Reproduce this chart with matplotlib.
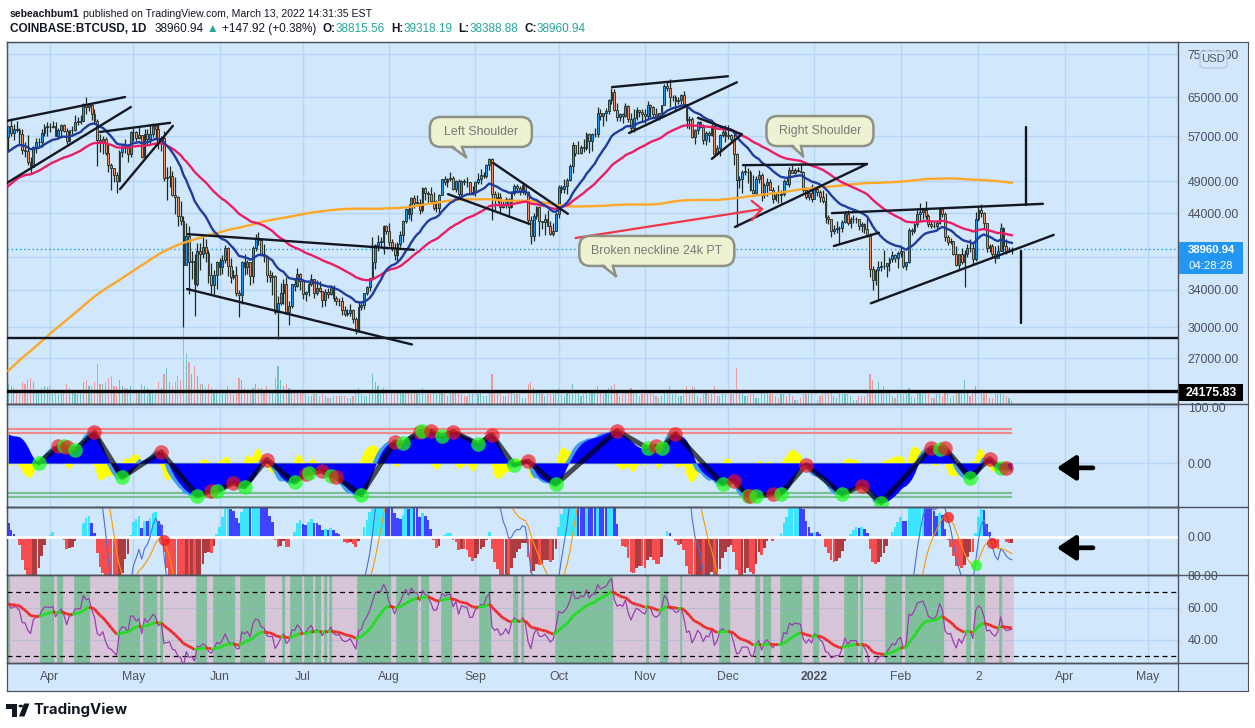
import numpy as np
import pandas as pd
import matplotlib
matplotlib.use("Agg")
import matplotlib.pyplot as plt
from matplotlib.collections import LineCollection
from matplotlib.lines import Line2D
from matplotlib.patches import FancyBboxPatch, Polygon, Rectangle, Circle
from matplotlib.ticker import FixedLocator, FuncFormatter, NullLocator, NullFormatter
from matplotlib.transforms import IdentityTransform

W, H = 1255, 728
START = "2021-03-17"

# warm-up closes (k USD), 2020-08-30 .. 2021-03-16, only feed the MAs / oscillators
hist_close = [
    11.7, 11.7,
    11.9, 11.4, 10.2, 10.5, 10.2, 10.3, 10.4, 10.1, 10.2, 10.4, 10.4, 10.4, 10.3, 10.7, 10.8,
    10.9, 11.0, 10.9, 11.1, 10.9, 10.4, 10.5, 10.2, 10.7, 10.7, 10.7, 10.8, 10.7, 10.8, 10.8,
    10.6, 10.6, 10.6, 10.7, 10.8, 10.6, 10.7, 10.9, 11.1, 11.3, 11.4, 11.5, 11.4, 11.4, 11.5, 11.3,
    11.4, 11.5, 11.7, 11.9, 12.8, 13.0, 13.0, 13.1, 13.0, 13.1, 13.7, 13.3, 13.5, 13.6, 13.8,
    13.75, 13.55, 14.0, 14.15, 15.6, 15.6, 14.85, 15.5, 15.3, 15.3, 15.7, 16.3, 16.3, 16.1, 15.95,
    16.7, 17.7, 17.8, 17.8, 18.7, 18.7, 18.4, 18.4, 19.15, 18.7, 17.15, 17.1, 17.7, 18.2, 19.7,
    18.8, 19.2, 19.45, 18.65, 19.15, 19.35, 19.2, 18.3, 18.55, 18.25, 18.05, 18.8, 19.15, 19.27, 19.43, 21.35,
    22.8, 23.1, 23.85, 23.45, 22.7, 23.8, 23.2, 23.7, 24.7, 26.4, 26.25, 27.0, 27.35, 28.9, 29.0,
    29.4, 32.2, 33.0, 32.0, 34.0, 36.8, 39.4, 40.6, 40.2, 38.2, 35.5, 34.0, 37.4, 39.1, 36.8, 36.0,
    35.8, 36.6, 35.9, 35.5, 30.8, 33.0, 32.1, 32.3, 32.4, 32.5, 30.4, 33.4, 34.3, 34.3, 33.1,
    33.5, 35.5, 37.6, 36.9, 38.3, 39.3, 38.9, 46.4, 46.5, 44.8, 47.9, 47.4, 47.2, 48.6,
    47.9, 49.2, 52.1, 51.6, 55.9, 55.9, 57.5, 54.2, 48.9, 49.7, 47.1, 46.3, 46.2, 45.2,
    49.6, 48.4, 50.5, 48.4, 48.8, 48.9, 51.2, 52.4, 54.9, 56.0, 57.8, 57.3, 61.2, 59.0, 55.6, 56.9,
]

# visible daily candles (k USD), 2021-03-17 .. 2022-03-13
close_k = [
    58.9, 57.6, 58.3, 58.1, 57.4, 54.4, 54.3, 52.3, 51.3, 55.0, 55.8, 55.8, 57.6, 58.8, 58.8,
    58.7, 59.0, 57.1, 58.2, 59.1, 58.0, 56.0, 58.1, 58.1, 59.8, 59.8, 59.9, 63.6, 62.9, 63.2,
    61.4, 60.0, 56.2, 55.7, 56.5, 53.8, 51.7, 51.2, 50.1, 49.0, 54.0, 55.0, 54.8, 53.6, 57.8,
    57.8, 56.6, 57.2, 53.2, 57.5, 56.4, 57.4, 58.9, 58.3, 55.8, 56.7, 49.5, 49.7, 49.9, 46.8, 46.4,
    43.6, 42.9, 37.0, 40.8, 37.3, 37.5, 34.7, 38.8, 38.4, 39.3, 38.5, 35.7, 34.6, 35.7, 37.3,
    36.7, 37.6, 39.2, 36.9, 35.5, 35.8, 33.6, 33.4, 37.4, 36.7, 37.3, 35.6, 39.1, 40.5, 40.2,
    38.3, 38.1, 35.8, 35.5, 35.6, 31.6, 32.5, 33.7, 34.7, 31.6, 32.2, 34.7, 34.5, 35.9, 35.0,
    33.5, 33.8, 34.7, 35.3, 33.7, 34.2, 33.9, 32.9, 33.8, 33.5, 34.3, 33.1, 32.7, 32.8, 31.8, 31.4,
    31.5, 31.8, 30.8, 29.8, 32.1, 32.3, 33.6, 34.3, 35.4, 37.3, 39.5, 40.0, 40.0, 42.2, 41.5,
    39.9, 39.2, 38.2, 39.7, 40.9, 42.8, 44.6, 43.8, 46.3, 45.6, 45.6, 44.4, 47.8, 47.1, 47.0, 45.9,
    44.7, 44.7, 46.8, 49.3, 48.9, 49.3, 49.5, 47.7, 49.0, 46.9, 49.1, 48.9, 48.8, 47.1, 47.2,
    48.8, 49.3, 50.0, 49.9, 51.8, 52.7, 46.9, 46.1, 46.4, 44.9, 45.2, 46.1, 44.9, 47.1, 48.2,
    47.8, 47.3, 48.3, 47.3, 43.0, 40.7, 43.6, 44.9, 42.8, 42.7, 43.2, 42.2, 41.0, 41.5, 43.8,
    48.1, 47.7, 48.2, 49.2, 51.5, 55.3, 53.8, 53.9, 54.9, 54.7, 57.5, 56.0, 57.4, 57.4, 61.7, 60.9,
    61.5, 62.0, 64.3, 66.0, 62.2, 60.7, 61.3, 60.9, 63.1, 60.3, 58.5, 60.6, 62.3, 61.9, 61.3,
    61.0, 63.3, 62.9, 61.4, 61.0, 61.5, 63.3, 67.5, 66.9, 64.9, 64.9, 64.2, 64.4, 65.5, 63.6,
    60.1, 60.4, 56.9, 58.1, 59.7, 58.7, 56.3, 57.6, 57.2, 58.9, 53.7, 54.8, 57.3, 57.8, 57.0,
    57.2, 56.5, 53.6, 49.2, 49.4, 50.6, 50.6, 50.5, 47.6, 47.1, 49.4, 50.1, 46.7, 48.4, 48.9, 47.6,
    46.2, 46.8, 46.7, 46.9, 49.0, 48.6, 50.8, 50.4, 50.8, 50.7, 50.6, 47.5, 46.5, 47.1, 46.2,
    47.7, 47.3, 46.4, 45.8, 43.4, 43.1, 41.5, 41.7, 41.8, 41.8, 42.7, 43.9, 42.6, 43.1, 43.1, 43.1,
    42.2, 42.4, 41.7, 40.7, 36.5, 35.1, 36.3, 36.7, 36.9, 36.8, 37.2, 37.7, 38.2, 37.9, 38.5,
    38.7, 36.9, 37.3, 41.6, 41.4, 42.4, 43.9, 44.1, 44.4, 43.6, 42.4, 42.2, 42.1, 42.6,
    44.6, 43.9, 40.6, 40.0, 40.1, 38.4, 37.0, 38.3, 37.3, 38.3, 39.2, 39.1, 37.7, 43.2,
    44.4, 44.0, 42.5, 39.2, 39.4, 38.4, 37.9, 38.7, 41.9, 39.4, 38.7, 38.8, 38.96,
]
high_k = [
    59.0, 60.1, 59.4, 59.9, 58.6, 58.4, 55.8, 57.2, 53.2, 55.1, 56.6, 56.6, 58.4, 59.4, 59.8,
    59.5, 60.0, 59.8, 58.5, 59.3, 59.4, 58.6, 58.2, 58.9, 61.2, 60.7, 61.2, 63.8, 64.9, 63.8,
    63.6, 62.5, 60.4, 57.5, 57.0, 56.8, 55.5, 52.1, 51.2, 50.5, 54.4, 55.5, 56.4, 55.2, 58.0,
    58.5, 57.9, 58.9, 57.2, 58.4, 58.4, 59.3, 59.5, 59.3, 59.5, 57.0, 58.0, 51.4, 51.5, 50.7, 49.7,
    46.6, 45.8, 43.6, 42.5, 42.2, 38.8, 38.3, 39.8, 39.8, 40.9, 40.4, 38.9, 37.2, 36.4, 37.5,
    37.9, 38.2, 39.5, 39.3, 37.9, 36.4, 36.8, 34.0, 37.5, 38.3, 37.6, 37.4, 39.4, 41.0, 41.3,
    40.5, 39.6, 38.2, 36.4, 36.1, 35.7, 33.3, 34.8, 35.3, 35.5, 32.7, 34.7, 35.3, 36.6, 36.0,
    35.0, 33.9, 34.9, 35.9, 35.3, 35.1, 35.0, 33.9, 34.1, 34.2, 34.6, 34.6, 33.3, 33.1, 33.2, 32.2,
    31.9, 32.4, 31.9, 31.0, 32.8, 32.6, 33.6, 34.5, 35.4, 40.6, 39.6, 40.9, 40.6, 42.3, 42.3,
    42.6, 40.4, 39.8, 39.9, 41.4, 43.0, 44.7, 45.3, 46.5, 46.7, 46.8, 46.2, 48.1, 48.1, 47.4, 48.0,
    47.2, 46.0, 47.0, 49.4, 49.8, 49.5, 50.5, 49.9, 49.2, 49.3, 49.2, 49.4, 49.6, 48.9, 48.2,
    49.0, 50.4, 51.0, 50.6, 51.9, 52.9, 52.9, 47.4, 47.3, 47.1, 45.9, 46.4, 46.3, 47.3, 48.5,
    48.5, 48.2, 48.8, 48.4, 47.4, 43.6, 44.0, 45.0, 45.1, 42.9, 43.9, 44.4, 42.8, 42.6, 44.1,
    48.4, 48.4, 49.4, 49.5, 51.9, 55.8, 55.3, 56.1, 55.4, 56.5, 57.8, 57.6, 57.6, 58.5, 62.9, 62.5,
    61.7, 62.7, 64.5, 67.0, 66.7, 63.7, 61.7, 61.5, 63.7, 63.3, 61.5, 62.5, 62.9, 62.3, 62.4,
    62.4, 64.2, 63.5, 63.1, 62.6, 61.6, 63.3, 67.8, 68.6, 69.0, 65.5, 65.5, 65.0, 65.6, 66.3,
    63.6, 61.0, 60.8, 58.4, 59.9, 60.0, 59.3, 57.9, 58.0, 59.4, 59.2, 55.3, 57.4, 58.9, 59.2,
    59.1, 57.4, 57.6, 53.9, 49.8, 50.9, 51.9, 51.2, 50.8, 50.1, 49.8, 50.8, 50.3, 48.7, 49.5, 49.4,
    48.0, 47.3, 48.3, 47.5, 49.3, 49.6, 51.4, 51.8, 51.2, 51.3, 52.0, 50.7, 48.1, 47.9, 48.5,
    47.9, 47.9, 47.6, 47.5, 47.1, 43.7, 43.1, 42.3, 42.8, 42.2, 43.0, 44.3, 44.4, 43.4, 43.7, 43.5,
    43.2, 42.7, 42.5, 43.5, 41.1, 36.8, 36.5, 37.5, 37.5, 38.9, 37.2, 38.0, 38.7, 38.4, 38.7,
    39.3, 38.8, 37.4, 41.9, 41.9, 42.6, 44.5, 45.5, 44.8, 45.8, 43.9, 42.9, 42.7, 42.9,
    44.7, 44.6, 44.2, 40.9, 40.5, 40.1, 39.4, 38.4, 39.2, 38.9, 39.7, 40.3, 39.8, 44.2,
    44.9, 45.4, 44.1, 42.5, 39.6, 39.7, 39.4, 39.5, 42.6, 42.0, 40.3, 39.3, 39.3,
]
low_k = [
    54.2, 57.1, 56.3, 57.8, 55.5, 53.7, 53.1, 51.8, 50.4, 51.4, 53.9, 54.7, 54.9, 57.1, 57.0,
    57.8, 58.5, 57.0, 56.5, 56.8, 57.8, 55.5, 55.8, 57.4, 58.0, 59.2, 59.4, 59.9, 61.3, 62.1,
    60.1, 59.6, 51.5, 54.0, 53.6, 53.5, 50.5, 47.5, 48.8, 47.1, 48.8, 53.2, 53.8, 52.3, 53.2,
    56.0, 56.1, 56.5, 53.0, 52.9, 55.3, 55.6, 56.9, 56.2, 54.5, 54.2, 49.0, 46.0, 48.0, 46.6, 43.8,
    42.1, 42.3, 30.0, 37.2, 33.5, 35.3, 31.1, 34.4, 36.4, 37.8, 37.3, 34.8, 33.4, 33.5, 34.1,
    35.7, 35.9, 37.2, 35.6, 34.8, 35.3, 33.3, 31.0, 32.4, 35.8, 35.9, 34.6, 34.8, 38.8, 39.5,
    38.1, 37.4, 34.9, 34.9, 33.4, 31.3, 28.8, 32.3, 32.4, 31.3, 30.2, 32.0, 33.9, 34.3, 34.0,
    33.0, 32.7, 33.3, 34.4, 33.1, 33.4, 33.8, 32.1, 32.2, 33.1, 33.4, 32.7, 32.3, 32.2, 31.2, 31.1,
    31.1, 31.1, 30.4, 29.3, 29.5, 31.8, 31.9, 33.4, 33.9, 35.2, 36.5, 38.8, 39.3, 38.3, 41.0,
    39.4, 38.7, 37.6, 37.5, 39.3, 39.9, 42.5, 43.1, 42.8, 44.7, 45.4, 43.8, 44.2, 46.0, 45.5, 45.7,
    44.4, 44.2, 43.9, 46.7, 48.3, 48.1, 49.0, 47.6, 47.2, 46.4, 46.4, 48.4, 48.0, 46.9, 46.7,
    46.6, 48.6, 48.5, 49.5, 49.5, 50.9, 43.0, 44.5, 45.6, 44.2, 44.8, 44.8, 43.4, 44.7, 46.8,
    47.1, 46.8, 47.0, 46.8, 42.6, 39.6, 40.1, 43.1, 40.7, 41.7, 40.9, 42.1, 40.9, 40.8, 41.4,
    43.3, 47.1, 47.1, 46.9, 49.1, 50.4, 53.4, 53.6, 53.7, 54.1, 54.4, 53.9, 54.2, 56.8, 56.9, 60.1,
    58.9, 60.0, 61.3, 63.5, 62.0, 60.0, 60.0, 59.6, 60.7, 59.8, 58.0, 57.8, 60.2, 60.7, 59.9,
    59.5, 60.4, 60.8, 60.7, 60.8, 60.1, 61.4, 63.3, 66.3, 62.8, 64.1, 62.3, 63.6, 63.5, 63.5,
    58.6, 58.4, 56.6, 55.6, 57.5, 58.6, 55.6, 55.3, 55.9, 57.0, 53.6, 53.7, 53.3, 56.8, 55.9,
    56.5, 55.9, 51.7, 42.0, 47.8, 47.1, 50.1, 48.7, 47.4, 46.9, 46.8, 48.7, 45.8, 46.3, 46.6, 47.6,
    45.5, 45.9, 45.6, 45.6, 46.6, 48.4, 48.1, 50.3, 50.2, 50.6, 50.4, 47.2, 46.1, 46.0, 45.7,
    46.2, 46.6, 45.7, 45.5, 42.5, 42.4, 40.6, 41.0, 41.2, 39.6, 41.3, 42.5, 42.3, 41.8, 42.6, 42.6,
    41.6, 41.3, 41.2, 40.6, 35.5, 34.0, 34.6, 33.0, 36.2, 36.5, 35.5, 36.2, 37.4, 37.4, 36.6,
    38.0, 36.6, 36.3, 37.2, 40.9, 41.1, 42.0, 42.8, 43.1, 43.2, 42.0, 41.8, 41.9, 41.6,
    42.4, 43.4, 40.1, 39.5, 39.7, 38.2, 36.8, 36.4, 37.1, 34.3, 38.0, 38.6, 37.1, 37.5,
    42.9, 43.4, 41.8, 38.6, 38.6, 38.0, 37.2, 37.9, 38.7, 38.6, 38.3, 38.6, 38.4,
]
volume = [
    20, 18, 16, 15, 14, 22, 20, 24, 26, 22, 14, 12, 16, 18, 17,
    18, 14, 12, 11, 14, 14, 20, 16, 13, 12, 10, 14, 22, 24, 18, 18, 22, 40, 20, 20,
    22, 26, 28, 18, 18, 24, 18, 16, 16, 18,
    12, 12, 14, 20, 18, 16, 14, 12, 14, 22, 16, 30, 36, 22, 18, 22, 28, 24, 90, 50,
    42, 30, 38, 28, 20, 20, 16, 20, 16, 12, 14,
    14, 12, 14, 18, 12, 10, 14, 26, 24, 16, 14, 12, 16, 20, 16, 16, 14, 18, 12, 14,
    26, 38, 24, 18, 20, 16, 14, 14, 14, 12,
    12, 10, 8, 8, 10, 10, 8, 10, 8, 6, 6, 8, 8, 8, 8, 8, 6, 6, 8, 14,
    16, 10, 8, 8, 10, 30, 22, 18, 14, 16, 12,
    12, 12, 12, 12, 14, 14, 14, 12, 14, 14, 10, 12, 16, 10, 10, 12, 14, 12, 12, 14,
    10, 8, 14, 14, 12, 12, 10, 8, 8, 10, 10,
    12, 10, 12, 8, 8, 12, 30, 14, 12, 12, 8, 8, 12, 12, 10, 10, 10, 6, 6, 20,
    22, 16, 14, 14, 10, 8, 10, 10, 10, 12,
    16, 10, 8, 12, 14, 20, 14, 12, 8, 10, 14, 12, 12, 12, 18, 12, 10, 12, 16, 18,
    20, 14, 8, 10, 12, 12, 16, 14, 10, 8, 10,
    10, 10, 12, 10, 8, 6, 8, 14, 14, 18, 10, 12, 8, 8, 10, 18, 14, 18, 16, 8,
    6, 10, 12, 10, 10, 18, 8, 8, 10, 10,
    10, 10, 14, 36, 14, 12, 8, 8, 10, 10, 6, 6, 14, 10, 12, 10, 12, 8, 6, 10,
    10, 8, 10, 8, 4, 4, 6, 10, 10, 10, 10,
    4, 4, 8, 10, 14, 12, 14, 8, 6, 12, 10, 10, 10, 8, 4, 4, 8, 8, 8, 14,
    30, 24, 12, 22, 14, 18, 14, 12, 8, 6, 10,
    10, 10, 10, 16, 8, 6, 12, 14, 10, 12, 12, 6, 6, 10, 10, 8, 12, 10, 6, 8,
    14, 12, 10, 24, 14, 8, 10, 18,
    16, 12, 10, 12, 6, 6, 10, 10, 12, 10, 8, 6, 3,
]
assert len(hist_close) == 199, len(hist_close)
assert len(close_k) == 362 and len(high_k) == 362 and len(low_k) == 362 and len(volume) == 362

last_open, last_high, last_low, last_close = 38815.56, 39318.19, 38388.88, 38960.94
change, change_pct = 147.92, 0.38
floor_level = 28900
target_level = 24175.83
price_ticks = [27000, 30000, 34000, 38000, 44000, 49000, 57000, 65000, 75000]
hidden_tick = 38000  # sits under the last-price tag

month_starts = ["2021-04-01", "2021-05-01", "2021-06-01", "2021-07-01", "2021-08-01",
                "2021-09-01", "2021-10-01", "2021-11-01", "2021-12-01", "2022-01-01",
                "2022-02-01", "2022-03-01", "2022-04-01", "2022-05-01"]
month_labels = ["Apr", "May", "Jun", "Jul", "Aug", "Sep", "Oct", "Nov", "Dec", "2022",
                "Feb", "2", "Apr", "May"]

# user drawings: (bar0, price0, bar1, price1)
trendlines = [
    (-0.5, 60000, 42.0, 65000), (-0.5, 48700, 44.1, 62850),
    (33.0, 57800, 58.2, 59600), (40.2, 47700, 59.2, 59000),
    (64.6, 41000, 145.9, 38900), (64.3, 34100, 145.2, 28300),
    (158.2, 46900, 187.7, 42400), (174.4, 52100, 201.3, 43900),
    (217.2, 67200, 258.9, 69700), (223.3, 57600, 262.1, 68300),
    (248.1, 60600, 263.9, 57350), (253.1, 52800, 263.9, 57350),
    (264.3, 51700, 308.9, 51900), (261.4, 42000, 308.9, 51900),
    (296.3, 44000, 372.2, 45400), (310.3, 32500, 376.1, 40900),
    (297.0, 39400, 313.2, 41200),
    (366.1, 58760, 366.1, 45220), (364.3, 38750, 364.3, 30420),
]
red_arrow = [(204.2, 40480), (271.1, 44610)]
red_arrow_head = [(267.5, 45830), (271.1, 44610), (267.5, 43000)]
# (text, bar, price, box width px, tail: base-left dx, base-right dx, tip dx)
callouts = [
    ("Left Shoulder", 170.0, 57800, 102, (-29, -19, -15)),
    ("Broken neckline 24k PT", 233.3, 38750, 155, (-54, -44, -41)),
    ("Right Shoulder", 292.0, 57970, 107, (-28, -19, -17)),
]

# ---------------------------------------------------------------- styling
BG = "#d1e7fc"
GRID = "#b5d6f6"
EDGE = "#4e525d"
DARK = "#131722"
TEAL = "#26a69a"
UP, DN, WICK = "#2196f3", "#f7905c", "#1c2a22"
plt.rcParams["font.family"] = ["Liberation Sans", "DejaVu Sans"]
XMIN, XMAX = -0.47, 420.8


def ema(a, n):
    return pd.Series(a).ewm(span=n, adjust=False).mean().to_numpy()


def sma(a, n):
    return pd.Series(a).rolling(n, min_periods=1).mean().to_numpy()


# ---------------------------------------------------------------- series
o = np.array([hist_close[-1]] + close_k[:-1]) * 1000
c = np.array(close_k) * 1000
hi = np.array(high_k) * 1000
lo = np.array(low_k) * 1000
o[-1], hi[-1], lo[-1], c[-1] = last_open, last_high, last_low, last_close
hi = np.maximum(hi, np.maximum(o, c))
lo = np.minimum(lo, np.minimum(o, c))
n = len(c)
x = np.arange(n)
nh = len(hist_close)
full = np.concatenate([np.array(hist_close) * 1000, c])
up = c >= o

ma_fast = ema(full, 20)[nh:]
ma_mid = ema(full, 50)[nh:]
ma_slow = pd.Series(full).rolling(200).mean().to_numpy()[nh:]

# wavetrend
ap = np.concatenate([np.array(hist_close) * 1000, (hi + lo + c) / 3])
esa = ema(ap, 10)
de = ema(np.abs(ap - esa), 10)
with np.errstate(divide="ignore", invalid="ignore"):
    ci = np.nan_to_num((ap - esa) / (0.015 * de))
wt1 = ema(ci, 21)
wt2 = sma(wt1, 4)
wdiff = wt1 - wt2
cross_i = [i for i in range(nh, len(ap)) if np.sign(wdiff[i]) != np.sign(wdiff[i - 1])]
wt1v, wt2v, wdv = wt1[nh:], wt2[nh:], wdiff[nh:]

# macd
macd = ema(full, 12) - ema(full, 26)
sig = ema(macd, 9)
mh = macd - sig
mcross = [i for i in range(nh, len(full)) if np.sign(mh[i]) != np.sign(mh[i - 1])]
mhv = mh[nh:]
mh_prev = mh[nh - 1:-1]

# rsi
delta = np.diff(full, prepend=full[0])
gain = pd.Series(np.clip(delta, 0, None)).ewm(alpha=1 / 14, adjust=False).mean().to_numpy()
loss = pd.Series(np.clip(-delta, 0, None)).ewm(alpha=1 / 14, adjust=False).mean().to_numpy()
with np.errstate(divide="ignore", invalid="ignore"):
    rsi = np.nan_to_num(100 - 100 / (1 + gain / loss), nan=50)
rsi_s = ema(rsi, 14)
rising = (rsi_s[nh:] - rsi_s[nh - 1:-1]) > 0
rsiv, rsisv = rsi[nh:], rsi_s[nh:]

start = pd.Timestamp(START)
month_pos = [(pd.Timestamp(m) - start).days for m in month_starts]

# ---------------------------------------------------------------- figure
fig = plt.figure(figsize=(W / 100, H / 100), dpi=100, facecolor="white")


def fx(v):
    return v / W


def fy(v):
    return 1 - v / H


def px_axes(x0, y0, x1, y1):
    return fig.add_axes([fx(x0), fy(y1), (x1 - x0) / W, (y1 - y0) / H])


def fig_line(x0, y0, x1, y1, **kw):
    fig.add_artist(Line2D([fx(x0), fx(x1)], [fy(y0), fy(y1)], transform=fig.transFigure, **kw))


def fig_rect(x0, y0, x1, y1, **kw):
    fig.add_artist(Rectangle((fx(x0), fy(y1)), (x1 - x0) / W, (y1 - y0) / H,
                             transform=fig.transFigure, **kw))


frame = px_axes(7, 42, 1248, 691)
frame.set_facecolor(BG)
frame.set_xticks([])
frame.set_yticks([])
for s in frame.spines.values():
    s.set_color(EDGE)


def style(ax):
    ax.set_facecolor("none")
    for s in ax.spines.values():
        s.set_color(EDGE)
        s.set_linewidth(1)
    ax.set_xlim(XMIN, XMAX)
    ax.set_xticks(month_pos)
    ax.set_xticklabels([])
    ax.tick_params(axis="x", length=0)
    ax.yaxis.tick_right()
    ax.tick_params(axis="y", length=0, pad=7, labelsize=8.8, labelcolor="#4a4f5c")
    ax.grid(True, color=GRID, lw=1)
    ax.set_axisbelow(True)


# volume sits underneath the price panel
vol_ax = px_axes(7, 42, 1178, 404)
vol_ax.set_xlim(XMIN, XMAX)
vol_ax.set_ylim(0, 362)
vol_ax.axis("off")
vol_ax.bar(x, volume, width=0.42, color=np.where(up, "#6cc3bb", "#ef9a9a"), linewidth=0)

main = px_axes(7, 42, 1178, 404)
style(main)
main.set_yscale("log")
main.set_ylim(23170, 78200)
main.yaxis.set_major_locator(FixedLocator(price_ticks))
main.yaxis.set_major_formatter(FuncFormatter(lambda v, p: "" if v == hidden_tick else f"{v:.2f}"))
main.yaxis.set_minor_locator(NullLocator())
main.yaxis.set_minor_formatter(NullFormatter())

main.axhline(last_close, color="#2196f3", lw=1, ls=(0, (1, 2)), zorder=2)
main.vlines(x, lo, hi, color=WICK, lw=0.9, zorder=3)
body = np.maximum(np.abs(c - o), c * 0.0012)
main.bar(x, body, bottom=np.minimum(o, c), width=0.66, color=np.where(up, UP, DN),
         edgecolor=WICK, linewidth=0.6, zorder=4)
main.plot(x, ma_slow, color="#ffa726", lw=1.7, zorder=5)
main.plot(x, ma_mid, color="#e91e63", lw=1.7, zorder=5)
main.plot(x, ma_fast, color="#1f3c9e", lw=1.7, zorder=5)

for d0, p0, d1, p1 in trendlines:
    main.plot([d0, d1], [p0, p1], color=DARK, lw=1.7, solid_capstyle="round", zorder=6)
main.axhline(floor_level, color=DARK, lw=1.7, zorder=6)
main.axhline(target_level, color="black", lw=2.4, zorder=6)
main.plot(*zip(*red_arrow), color="#f23645", lw=1.6, zorder=6)
main.plot(*zip(*red_arrow_head), color="#f23645", lw=1.6, zorder=6)

# ---------------------------------------------------------------- wavetrend panel
p2 = px_axes(7, 404, 1178, 507)
style(p2)
p2.set_ylim(-78.6, 105.4)
p2.set_yticks([0, 100])
p2.set_yticklabels(["0.00", "100.00"])
for lev, col in [(60, "#f08a8a"), (53, "#f08a8a"), (-53, "#7cbf94"), (-60, "#7cbf94")]:
    p2.hlines(lev, -0.5, n - 1, color=col, lw=1.6, zorder=1)
p2.hlines(0, -0.5, n - 1, color="#98a3b5", lw=1, zorder=1)
p2.fill_between(x, 0, wdv * 1.6, color="#ffff00", lw=0, zorder=2)
p2.fill_between(x, 0, wt1v, color="#3fa0f0", lw=0, zorder=3)
p2.fill_between(x, 0, wt2v, color="#0000ff", lw=0, zorder=4)
cx = [i - nh for i in cross_i]
cy = [wt2[i] for i in cross_i]
p2.plot(cx, cy, color=(0, 0, 0, 0.68), lw=3.6, zorder=5, solid_joinstyle="round")
for i in cross_i:
    col = (0.1, 1.0, 0.1, 0.72) if wdiff[i] > 0 else (0.95, 0.08, 0.12, 0.66)
    p2.plot(i - nh, wt2[i], "o", ms=10.5, color=col, mec="none", zorder=6)
p2.annotate("", xy=(377.2, 0.38), xytext=(390.2, 0.38), xycoords=("data", "axes fraction"),
            arrowprops=dict(arrowstyle="-|>,head_length=0.75,head_width=0.5", lw=3.4, color="black",
                            mutation_scale=15, shrinkA=0, shrinkB=0), zorder=7)

# ---------------------------------------------------------------- macd panel
p3 = px_axes(7, 507, 1178, 575)
style(p3)
p3.set_ylim(-720, 568)
p3.set_yticks([0])
p3.set_yticklabels(["0.00"])
hcol = np.where(mhv >= 0, np.where(mhv >= mh_prev, "#22e6ff", "#2525ff"),
                np.where(mhv < mh_prev, "#ff3232", "#a61e1e"))
p3.bar(x, mhv, width=0.95, color=hcol, alpha=0.85, linewidth=0, zorder=2)
p3.axhline(0, color="white", lw=2, zorder=3)
p3.plot(x, macd[nh:], color="#4f6fd0", lw=0.8, zorder=4)
p3.plot(x, sig[nh:], color="#ff9800", lw=0.8, zorder=4)
for i in mcross:
    col = (0.1, 1.0, 0.1, 0.75) if mh[i] > 0 else (0.95, 0.1, 0.1, 0.75)
    p3.plot(i - nh, sig[i], "o", ms=8, color=col, mec="none", zorder=5)
p3.annotate("", xy=(377.2, 0.40), xytext=(390.2, 0.40), xycoords=("data", "axes fraction"),
            arrowprops=dict(arrowstyle="-|>,head_length=0.75,head_width=0.5", lw=3.4, color="black",
                            mutation_scale=15, shrinkA=0, shrinkB=0), zorder=7)

# ---------------------------------------------------------------- rsi panel
p4 = px_axes(7, 575, 1178, 663)
style(p4)
p4.set_ylim(25.6, 80.6)
p4.set_yticks([40, 60, 80])
p4.set_yticklabels(["40.00", "60.00", "80.00"])
bcol = np.where(rising, "#80bf9c", "#d8c4d9")
p4.bar(x, 80.6 - 25.6, bottom=25.6, width=1.0, color=bcol, edgecolor=bcol, linewidth=0.4, zorder=1)
for lev in (40, 60):
    p4.hlines(lev, -0.5, n - 0.5, color="#9fb6cc", lw=0.8, alpha=0.5, zorder=1.5)
for lev in (70, 30):
    p4.axhline(lev, color="black", lw=0.9, ls=(0, (4, 3)), zorder=2)
p4.plot(x, rsiv, color="#9b3fae", lw=0.9, zorder=3)
segs = np.stack([np.column_stack([x[:-1], rsisv[:-1]]), np.column_stack([x[1:], rsisv[1:]])], axis=1)
p4.add_collection(LineCollection(segs, colors=np.where(rising[1:], "#22dd22", "#ee2b2b"),
                                 linewidths=2.0, zorder=4))

# ---------------------------------------------------------------- time strip
strip = px_axes(7, 663, 1178, 691)
strip.set_facecolor("none")
strip.set_xlim(XMIN, XMAX)
strip.set_xticks([])
strip.set_yticks([])
for s in strip.spines.values():
    s.set_color(EDGE)
for pos, lab in zip(month_pos, month_labels):
    strip.text(pos, 0.5, lab, transform=strip.get_xaxis_transform(), ha="center", va="center",
               fontsize=8.8, color="#50535e", fontweight="bold" if lab == "2022" else "normal")

# panel separators through the price-scale column
for yy in (404, 507, 575, 663):
    fig_line(7, yy, 1248, yy, color=EDGE, lw=1)

# ---------------------------------------------------------------- callouts
for text, d, price, w, (b0, b1, tip) in callouts:
    cxp, cyp = main.transData.transform((d, price))
    h = 30
    fill, edge = "#eef2d3", "#8e9183"
    box = FancyBboxPatch((cxp - w / 2, cyp - h / 2), w, h, boxstyle="round,pad=0,rounding_size=11",
                         transform=IdentityTransform(), fc=fill, ec=edge, lw=1.8, zorder=8)
    fig.add_artist(box)
    by = cyp - h / 2
    fig.add_artist(Polygon([(cxp + b0 + 1, by + 2), (cxp + tip, by - 10), (cxp + b1 - 1, by + 2)],
                           closed=True, transform=IdentityTransform(), fc=fill, ec="none", zorder=9))
    for bx in (b0, b1):
        fig.add_artist(Line2D([cxp + bx, cxp + tip], [by, by - 10], transform=IdentityTransform(),
                              color=edge, lw=1.8, zorder=9))
    fig.text(cxp / W, cyp / H, text, ha="center", va="center", fontsize=8.9, color="#767a74",
             zorder=10)

# ---------------------------------------------------------------- price scale tags
fig_rect(1179, 242, 1243, 274, fc="#2196f3", ec="none", zorder=10)
fig.text(fx(1211), fy(250), f"{last_close:.2f}", ha="center", va="center", fontsize=8.2,
         color="white", fontweight="bold", zorder=11)
fig.text(fx(1211), fy(266), "04:28:28", ha="center", va="center", fontsize=8.2, color="white", zorder=11)
fig_rect(1179, 384, 1243, 401, fc="black", ec="none", zorder=10)
fig.text(fx(1211), fy(392.5), f"{target_level:.2f}", ha="center", va="center", fontsize=8.8,
         color="white", fontweight="bold", zorder=11)
usd = FancyBboxPatch((fx(1200), fy(68)), 27 / W, 17 / H, boxstyle="round,pad=0,rounding_size=0.004",
                     transform=fig.transFigure, fc=BG, ec="#b9c6d6", lw=1, zorder=10)
fig.add_artist(usd)
fig.text(fx(1213.5), fy(59.5), "USD", ha="center", va="center", fontsize=8.2, color="#50535e", zorder=11)

# ---------------------------------------------------------------- header / footer
renderer = fig.canvas.get_renderer()


def text_run(x0, y0, parts, size):
    for s, weight, color, gap in parts:
        t = fig.text(fx(x0), fy(y0), s, fontsize=size, fontweight=weight, color=color,
                     ha="left", va="center")
        x0 += t.get_window_extent(renderer=renderer).width + gap


text_run(10, 14, [("sebeachbum1", "bold", DARK, 3),
                  ("published on TradingView.com, March 13, 2022 14:31:35 EST", "normal", DARK, 0)], 7.6)
text_run(10, 29, [("COINBASE:BTCUSD, 1D", "bold", DARK, 8),
                  (f"{last_close:.2f}", "normal", DARK, 3),
                  ("\u25b2", "normal", TEAL, 4),
                  (f"+{change:.2f} (+{change_pct:.2f}%)", "normal", DARK, 6),
                  ("O:", "bold", DARK, 0), (f"{last_open:.2f}", "normal", TEAL, 6),
                  ("H:", "bold", DARK, 0), (f"{last_high:.2f}", "normal", TEAL, 6),
                  ("L:", "bold", DARK, 0), (f"{last_low:.2f}", "normal", TEAL, 6),
                  ("C:", "bold", DARK, 0), (f"{last_close:.2f}", "normal", TEAL, 0)], 8.5)

# TradingView mark
fig_rect(6, 703.5, 17, 708.5, fc=DARK, ec="none")
fig_rect(12, 703.5, 17, 716.5, fc=DARK, ec="none")
fig.add_artist(Circle((fx(20.8), fy(706)), 2.3 / W, transform=fig.transFigure, fc=DARK, ec="none"))
fig.add_artist(Polygon([(fx(19), fy(716.5)), (fx(24.5), fy(716.5)), (fx(29.5), fy(703.5)),
                        (fx(24), fy(703.5))], closed=True, transform=fig.transFigure, fc=DARK, ec="none"))
fig.text(fx(33), fy(710), "TradingView", ha="left", va="center", fontsize=10.8, fontweight="bold",
         color=DARK, family=["Inter", "Liberation Sans", "DejaVu Sans"])

fig.savefig("out.png", dpi=100, facecolor="white")
